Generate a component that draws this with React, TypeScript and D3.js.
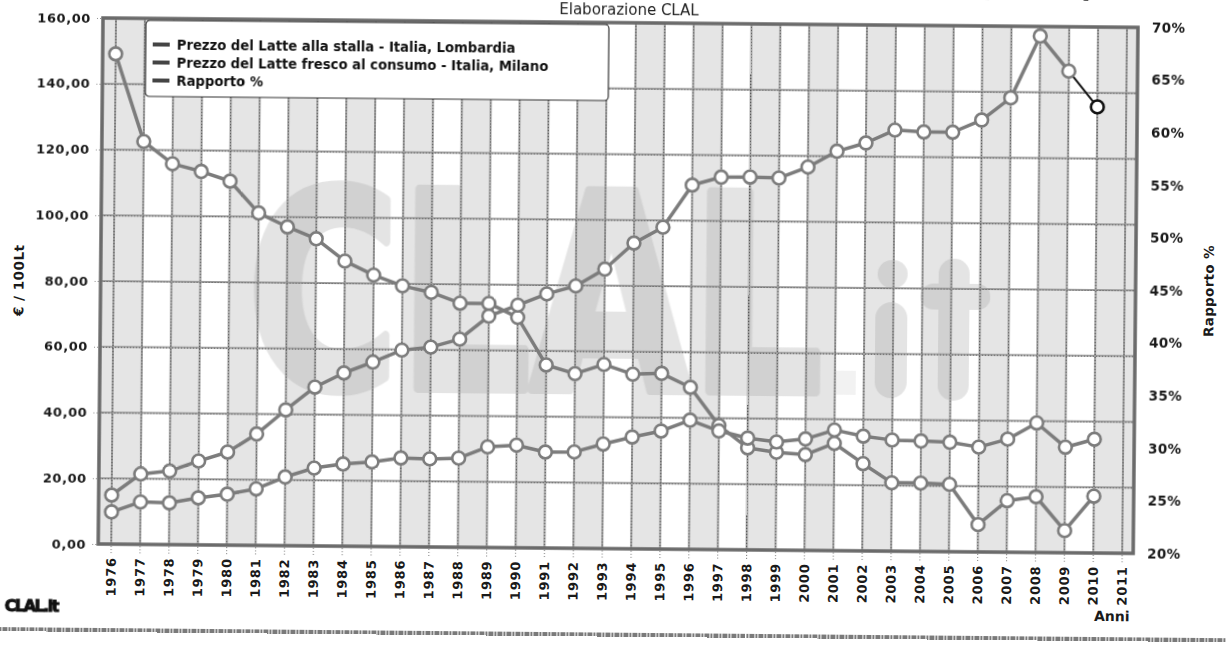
import { useEffect, useRef } from "react";
import * as d3 from "d3";

const years = [
  1976, 1977, 1978, 1979, 1980, 1981, 1982, 1983, 1984, 1985, 1986, 1987,
  1988, 1989, 1990, 1991, 1992, 1993, 1994, 1995, 1996, 1997, 1998, 1999,
  2000, 2001, 2002, 2003, 2004, 2005, 2006, 2007, 2008, 2009, 2010,
];
const tickYears = [...years, 2011];

// €/100Lt
const stalla = [
  9.8, 12.9, 12.7, 14.3, 15.5, 17.2, 20.9, 23.7, 25.0, 25.7, 27.0, 26.8,
  27.1, 30.6, 31.2, 29.2, 29.3, 31.8, 34.0, 35.9, 39.3, 36.1, 34.0, 32.9,
  33.9, 36.7, 34.9, 33.8, 33.6, 33.3, 31.9, 34.4, 39.4, 32.1, 34.6,
];
const consumo = [
  14.9, 21.4, 22.4, 25.5, 28.3, 33.9, 41.3, 48.3, 52.7, 56.1, 59.8, 60.8,
  63.3, 70.4, 73.8, 77.3, 79.8, 85.0, 93.0, 97.9, 110.8, 113.3, 113.4, 113.2,
  116.6, 121.5, 124.1, 128.1, 127.6, 127.6, 131.4, 138.2, 157.1, 146.5, 135.7,
];
// %
const rapporto = [
  66.6, 58.3, 56.2, 55.5, 54.6, 51.6, 50.3, 49.2, 47.1, 45.8, 44.8, 44.2,
  43.2, 43.2, 41.9, 37.4, 36.6, 37.5, 36.6, 36.7, 35.4, 31.8, 29.7, 29.3,
  29.1, 30.2, 28.3, 26.5, 26.5, 26.4, 22.6, 24.9, 25.3, 22.1, 25.4,
];

const leftTicks = [0, 20, 40, 60, 80, 100, 120, 140, 160];
const rightTicks = [20, 25, 30, 35, 40, 45, 50, 55, 60, 65, 70];
const legendLabels = [
  "Prezzo del Latte alla stalla - Italia, Lombardia",
  "Prezzo del Latte fresco al consumo - Italia, Milano",
  "Rapporto %",
];

const W = 1226;
const H = 645;
const FONT = "'DejaVu Sans', Verdana, sans-serif";
const LINE = "#7c7c7c";

export default function App() {
  const svgRef = useRef<SVGSVGElement>(null);

  useEffect(() => {
    if (!svgRef.current) return;
    const svg = d3.select(svgRef.current);
    svg.selectAll("*").remove();

    const margin = { top: 18, right: 88, bottom: 101, left: 103 };
    const width = W - margin.left - margin.right;
    const height = H - margin.top - margin.bottom;

    // the scanned original is slightly tilted
    const root = svg.append("g")
      .attr("transform", `rotate(0.52, ${margin.left}, ${margin.top})`)
      .attr("font-family", FONT);
    const g = root.append("g").attr("transform", `translate(${margin.left},${margin.top})`);

    const x = d3.scaleLinear().domain([1975.55, 2011.38]).range([0, width]);
    const yL = d3.scaleLinear().domain([0, 160]).range([height, 0]);
    const yR = d3.scaleLinear().domain([20, 70]).range([height, 0]);

    // alternating bands
    g.selectAll(".band")
      .data(tickYears.filter((yr) => yr % 2 === 0))
      .enter().append("rect")
      .attr("x", (d) => (d === 1976 ? 0 : x(d)))
      .attr("width", (d) => (d === 2010 ? width - x(d) : x(d + 1) - (d === 1976 ? 0 : x(d))))
      .attr("y", 0).attr("height", height)
      .attr("fill", "#e5e5e5");

    // watermark
    const wm = g.append("g").attr("fill", "#9a9a9a").attr("opacity", 0.27);
    wm.append("text")
      .attr("transform", `translate(147,367) scale(0.76,1)`)
      .attr("font-size", 272).attr("font-weight", "bold")
      .attr("stroke", "#9a9a9a").attr("stroke-width", 10).attr("stroke-linejoin", "round")
      .text("CLAL");
    wm.append("rect").attr("x", 777).attr("y", 235).attr("width", 30).attr("height", 28).attr("rx", 14);
    wm.append("rect").attr("x", 775).attr("y", 277).attr("width", 32).attr("height", 96).attr("rx", 16);
    wm.append("rect").attr("x", 838).attr("y", 233).attr("width", 31).attr("height", 142).attr("rx", 15);
    wm.append("rect").attr("x", 820).attr("y", 258).attr("width", 70).attr("height", 26).attr("rx", 13);
    wm.append("rect").attr("x", 736).attr("y", 346).attr("width", 20).attr("height", 24).attr("opacity", 0.5);

    // grid
    g.selectAll(".vgrid")
      .data(tickYears)
      .enter().append("line")
      .attr("x1", (d) => x(d)).attr("x2", (d) => x(d))
      .attr("y1", 0).attr("y2", height)
      .attr("stroke", "#9c9c9c").attr("stroke-width", 2);
    g.selectAll(".hgrid")
      .data(leftTicks)
      .enter().append("line")
      .attr("x1", 0).attr("x2", width)
      .attr("y1", (d) => yL(d)).attr("y2", (d) => yL(d))
      .attr("stroke", "#9c9c9c").attr("stroke-width", 2);
    g.selectAll(".vdot")
      .data(tickYears)
      .enter().append("line")
      .attr("x1", (d) => x(d)).attr("x2", (d) => x(d))
      .attr("y1", 0).attr("y2", height + 9)
      .attr("stroke", "#222").attr("stroke-width", 1)
      .attr("stroke-dasharray", "1 2").attr("opacity", 0.6);
    g.selectAll(".hdot")
      .data(leftTicks)
      .enter().append("line")
      .attr("x1", -6).attr("x2", width)
      .attr("y1", (d) => yL(d) + 0.5).attr("y2", (d) => yL(d) + 0.5)
      .attr("stroke", "#222").attr("stroke-width", 1)
      .attr("stroke-dasharray", "1 2").attr("opacity", 0.5);

    // frame
    g.append("rect")
      .attr("x", 0).attr("y", 0).attr("width", width).attr("height", height)
      .attr("fill", "none").attr("stroke", "#6a6a6a").attr("stroke-width", 3.5);

    // series
    const drawSeries = (vals: number[], y: d3.ScaleLinear<number, number>, lastDark: boolean) => {
      const pts = vals.map((v, i) => [x(years[i]), y(v)] as [number, number]);
      const line = d3.line<[number, number]>();
      const main = lastDark ? pts.slice(0, -1) : pts;
      g.append("path").datum(main)
        .attr("fill", "none").attr("stroke", LINE).attr("stroke-width", 3.5)
        .attr("stroke-linejoin", "round").attr("d", line);
      if (lastDark) {
        g.append("path").datum(pts.slice(-2))
          .attr("fill", "none").attr("stroke", "#111").attr("stroke-width", 2)
          .attr("d", line);
      }
      g.selectAll(null)
        .data(pts)
        .enter().append("circle")
        .attr("cx", (d) => d[0]).attr("cy", (d) => d[1]).attr("r", 6.4)
        .attr("fill", "#fff")
        .attr("stroke", (_, i) => (lastDark && i === pts.length - 1 ? "#111" : LINE))
        .attr("stroke-width", 2.6);
    };
    drawSeries(rapporto, yR, false);
    drawSeries(stalla, yL, false);
    drawSeries(consumo, yL, true);

    // left axis
    g.selectAll(".ltick")
      .data(leftTicks)
      .enter().append("text")
      .attr("x", -12).attr("y", (d) => yL(d)).attr("dy", "0.35em")
      .attr("text-anchor", "end").attr("font-size", 13).attr("font-weight", "bold")
      .attr("letter-spacing", 0.6).attr("fill", "#1a1a1a")
      .text((d) => d3.format(".2f")(d).replace(".", ","));
    g.append("text")
      .attr("transform", `translate(-77,${height / 2}) rotate(-90)`)
      .attr("text-anchor", "middle").attr("font-size", 13.5).attr("font-weight", "bold")
      .attr("letter-spacing", 0.5).attr("fill", "#1a1a1a").text("€ / 100Lt");

    // right axis
    g.selectAll(".rtick")
      .data(rightTicks)
      .enter().append("text")
      .attr("x", width + 14).attr("y", (d) => yR(d)).attr("dy", "0.35em")
      .attr("font-size", 13.5).attr("font-weight", "bold").attr("letter-spacing", 0.4)
      .attr("fill", "#1a1a1a")
      .text((d) => `${d}%`);
    g.append("text")
      .attr("transform", `translate(${width + 78},${height / 2}) rotate(-90)`)
      .attr("text-anchor", "middle").attr("font-size", 13.5).attr("font-weight", "bold")
      .attr("letter-spacing", 0.3).attr("fill", "#1a1a1a").text("Rapporto %");

    // x axis labels
    g.selectAll(".xtick")
      .data(tickYears)
      .enter().append("text")
      .attr("transform", (d) => `translate(${x(d)},${height + 13}) rotate(-90)`)
      .attr("dy", "0.36em").attr("text-anchor", "end")
      .attr("font-size", 13).attr("font-weight", "bold").attr("letter-spacing", 0.8)
      .attr("fill", "#1a1a1a")
      .text((d) => d);
    g.append("text")
      .attr("x", width - 3).attr("y", height + 68)
      .attr("text-anchor", "end").attr("font-size", 14).attr("font-weight", "bold")
      .attr("fill", "#1a1a1a").text("Anni");

    // legend
    const lg = g.append("g").attr("transform", "translate(43,2)");
    lg.append("rect")
      .attr("width", 463).attr("height", 76).attr("rx", 4)
      .attr("fill", "#fff").attr("stroke", "#333").attr("stroke-width", 1.2);
    legendLabels.forEach((lab, i) => {
      lg.append("rect")
        .attr("x", 7).attr("y", 24 + i * 18 - 2).attr("width", 17).attr("height", 4)
        .attr("fill", "#444");
      lg.append("text")
        .attr("x", 31).attr("y", 24 + i * 18).attr("dy", "0.35em")
        .attr("font-size", 13.2).attr("font-weight", "bold")
        .attr("fill", "#111")
        .text(lab);
    });

    // titles and footer
    root.append("text")
      .attr("x", 629).attr("y", 10).attr("text-anchor", "middle")
      .attr("font-size", 15).attr("fill", "#222").text("Elaborazione CLAL");
    root.append("text")
      .attr("x", 977).attr("y", -13).attr("font-size", 32).attr("font-weight", "bold")
      .attr("fill", "#111").text("(2010)");
    root.append("text")
      .attr("x", 10).attr("y", 612).attr("font-size", 16).attr("font-weight", "900")
      .attr("letter-spacing", -1.5).attr("fill", "#111")
      .attr("stroke", "#111").attr("stroke-width", 1)
      .text("CLAL.it");
    root.append("line")
      .attr("x1", -10).attr("x2", W + 10).attr("y1", 630).attr("y2", 630)
      .attr("stroke", "#7a7a7a").attr("stroke-width", 4).attr("stroke-dasharray", "5 1 2 1");
  }, []);

  return (
    <svg
      ref={svgRef}
      width={W}
      height={H}
      style={{ position: "absolute", left: 0, top: 0, background: "#fff" }}
    />
  );
}
